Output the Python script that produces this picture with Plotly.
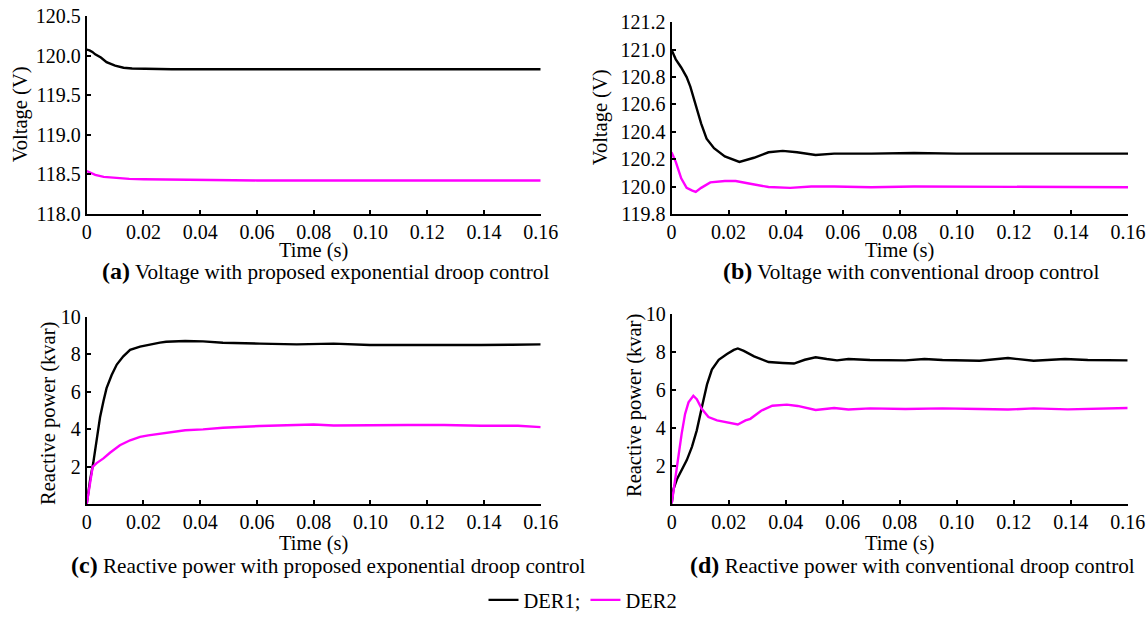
import plotly.graph_objects as go

# ---------------- data ----------------
# (a) Voltage with proposed exponential droop control
t_a1 = [0, 0.001, 0.002, 0.003, 0.005, 0.007, 0.010, 0.013, 0.016, 0.020, 0.030, 0.040, 0.060, 0.080, 0.100, 0.120, 0.140, 0.160]
v_a1 = [120.08, 120.07, 120.05, 120.02, 119.98, 119.92, 119.875, 119.85, 119.84, 119.835, 119.83, 119.83, 119.83, 119.83, 119.83, 119.83, 119.83, 119.83]
t_a2 = [0, 0.001, 0.003, 0.006, 0.010, 0.015, 0.020, 0.030, 0.040, 0.060, 0.080, 0.100, 0.120, 0.140, 0.160]
v_a2 = [118.54, 118.52, 118.49, 118.465, 118.45, 118.44, 118.435, 118.43, 118.425, 118.42, 118.42, 118.42, 118.42, 118.42, 118.42]

# (b) Voltage with conventional droop control
t_b1 = [0, 0.0015, 0.0034, 0.0053, 0.0066, 0.0085, 0.0104, 0.0123, 0.0149, 0.0187, 0.0238, 0.0289, 0.034, 0.039, 0.044, 0.0505, 0.057, 0.070, 0.085, 0.100, 0.115, 0.130, 0.145, 0.160]
v_b1 = [121.00, 120.93, 120.87, 120.80, 120.73, 120.59, 120.46, 120.35, 120.28, 120.22, 120.18, 120.21, 120.25, 120.26, 120.25, 120.23, 120.24, 120.24, 120.245, 120.24, 120.24, 120.235, 120.24, 120.24]
t_b2 = [0, 0.0015, 0.0034, 0.0053, 0.0073, 0.0085, 0.0104, 0.0136, 0.0187, 0.0225, 0.0276, 0.034, 0.0416, 0.049, 0.057, 0.070, 0.085, 0.100, 0.115, 0.130, 0.145, 0.160]
v_b2 = [120.25, 120.18, 120.06, 119.99, 119.97, 119.96, 119.99, 120.03, 120.04, 120.04, 120.02, 119.996, 119.99, 120.0, 120.0, 119.995, 120.0, 120.0, 120.0, 119.995, 120.0, 119.995]

# (c) Reactive power with proposed exponential droop control
t_c1 = [0, 0.0012, 0.0023, 0.0035, 0.0047, 0.0059, 0.0070, 0.0088, 0.0106, 0.0129, 0.0153, 0.0188, 0.0223, 0.0258, 0.028, 0.0347, 0.041, 0.048, 0.061, 0.074, 0.087, 0.0998, 0.113, 0.126, 0.139, 0.150, 0.160]
q_c1 = [0, 1.3, 2.2, 3.4, 4.65, 5.5, 6.2, 6.9, 7.46, 7.9, 8.25, 8.42, 8.54, 8.63, 8.68, 8.72, 8.70, 8.63, 8.58, 8.54, 8.58, 8.51, 8.51, 8.49, 8.51, 8.52, 8.54]
t_c2 = [0, 0.0012, 0.0021, 0.0035, 0.0059, 0.0082, 0.0117, 0.0153, 0.0188, 0.0217, 0.028, 0.0347, 0.041, 0.048, 0.061, 0.074, 0.080, 0.087, 0.0998, 0.113, 0.126, 0.139, 0.152, 0.160]
q_c2 = [0, 1.3, 2.0, 2.2, 2.45, 2.75, 3.15, 3.42, 3.6, 3.68, 3.8, 3.95, 4.0, 4.09, 4.18, 4.25, 4.26, 4.21, 4.23, 4.23, 4.23, 4.19, 4.19, 4.12]

# (d) Reactive power with conventional droop control
t_d1 = [0, 0.0006, 0.0018, 0.0035, 0.0053, 0.0071, 0.0088, 0.0106, 0.0124, 0.0141, 0.0165, 0.0194, 0.0218, 0.0232, 0.0253, 0.0289, 0.034, 0.039, 0.0429, 0.0467, 0.0505, 0.0544, 0.058, 0.062, 0.0696, 0.082, 0.0887, 0.095, 0.108, 0.118, 0.127, 0.138, 0.146, 0.160]
q_d1 = [0, 0.75, 1.27, 1.8, 2.3, 3.0, 3.87, 5.1, 6.3, 7.08, 7.6, 7.9, 8.12, 8.2, 8.07, 7.78, 7.48, 7.43, 7.4, 7.6, 7.73, 7.64, 7.57, 7.64, 7.59, 7.57, 7.64, 7.59, 7.55, 7.69, 7.55, 7.64, 7.59, 7.57]
t_d2 = [0, 0.0018, 0.0035, 0.0047, 0.0059, 0.0076, 0.0088, 0.0106, 0.0129, 0.0159, 0.0194, 0.0218, 0.0232, 0.0259, 0.0276, 0.0314, 0.0353, 0.0404, 0.0442, 0.0505, 0.057, 0.062, 0.0696, 0.082, 0.095, 0.108, 0.118, 0.127, 0.139, 0.160]
q_d2 = [0, 1.96, 3.7, 4.74, 5.35, 5.7, 5.52, 5.0, 4.57, 4.4, 4.3, 4.22, 4.18, 4.4, 4.48, 4.91, 5.17, 5.23, 5.16, 4.95, 5.05, 4.97, 5.03, 5.0, 5.03, 5.0, 4.97, 5.03, 4.98, 5.05]

x_ticks = [0, 0.02, 0.04, 0.06, 0.08, 0.10, 0.12, 0.14, 0.16]
x_ticktext = ["0", "0.02", "0.04", "0.06", "0.08", "0.10", "0.12", "0.14", "0.16"]
ya_ticks = [118.0, 118.5, 119.0, 119.5, 120.0, 120.5]
yb_ticks = [119.8, 120.0, 120.2, 120.4, 120.6, 120.8, 121.0, 121.2]
yq_ticks = [2, 4, 6, 8, 10]

series_names = ["DER1;", "DER2"]
colors = ["#000000", "#ff00ff"]
captions = [("(a)", "Voltage with proposed exponential droop control"),
            ("(b)", "Voltage with conventional droop control"),
            ("(c)", "Reactive power with proposed exponential droop control"),
            ("(d)", "Reactive power with conventional droop control")]

# ---------------- figure ----------------
W, H = 1148, 620
FONT = "Liberation Serif, Times New Roman, serif"
FS = 20.5
CFS = 21.2
TFS = 20

def px_x(p):
    return p / W

def px_y(p):
    return 1 - p / H

fig = go.Figure()

panels = [
    (t_a1, v_a1, t_a2, v_a2, "x", "y"),
    (t_b1, v_b1, t_b2, v_b2, "x2", "y2"),
    (t_c1, q_c1, t_c2, q_c2, "x3", "y3"),
    (t_d1, q_d1, t_d2, q_d2, "x4", "y4"),
]
for i, (t1, s1, t2, s2, xa, ya) in enumerate(panels):
    fig.add_trace(go.Scatter(x=t1, y=s1, mode="lines", name=series_names[0],
                             line=dict(color=colors[0], width=2.4),
                             xaxis=xa, yaxis=ya, showlegend=(i == 0)))
    fig.add_trace(go.Scatter(x=t2, y=s2, mode="lines", name=series_names[1],
                             line=dict(color=colors[1], width=2.4),
                             xaxis=xa, yaxis=ya, showlegend=(i == 0)))

dom = {
    1: dict(x=[px_x(86.7), px_x(540.7)], y=[px_y(216.7), px_y(16.7)], yr=[118.0, 120.5], yt=ya_ticks, fmt="%.1f"),
    2: dict(x=[px_x(671.5), px_x(1128)], y=[px_y(217), px_y(22.7)], yr=[119.8, 121.2], yt=yb_ticks, fmt="%.1f"),
    3: dict(x=[px_x(86.7), px_x(540.7)], y=[px_y(511.7), px_y(321.7)], yr=[0, 10], yt=yq_ticks, fmt="%d"),
    4: dict(x=[px_x(671.7), px_x(1127.7)], y=[px_y(511), px_y(319)], yr=[0, 10], yt=yq_ticks, fmt="%d"),
}

axis_common = dict(showgrid=False, zeroline=False, showline=True, linecolor="black", linewidth=2,
                   ticks="inside", ticklen=4, tickwidth=2, tickcolor="black", automargin=False,
                   ticklabeloverflow="allow",
                   tickfont=dict(family=FONT, size=TFS, color="black"), mirror=False)

layout = {}
for k, d in dom.items():
    sx = "" if k == 1 else str(k)
    layout["xaxis" + sx] = dict(domain=d["x"], range=[0, 0.16], tickvals=x_ticks, ticktext=x_ticktext,
                                anchor="y" + sx, ticklabelstandoff=-1, **axis_common)
    layout["yaxis" + sx] = dict(domain=d["y"], range=d["yr"], tickvals=d["yt"],
                                ticktext=[(d["fmt"] % v) for v in d["yt"]],
                                anchor="x" + sx, **axis_common)
fig.update_layout(**layout)

ann = []
for cx, cy in [((86.7 + 540.7) / 2, 254), ((671.5 + 1128) / 2, 254), ((86.7 + 540.7) / 2, 551), ((671.7 + 1127.7) / 2, 551)]:
    ann.append(dict(text="Time (s)", x=px_x(cx), y=px_y(cy), xref="paper", yref="paper",
                    xanchor="center", yanchor="middle", showarrow=False,
                    font=dict(family=FONT, size=FS, color="black")))
for txt, cx, cy in [("Voltage (V)", 20, 116), ("Voltage (V)", 600, 119),
                    ("Reactive power (kvar)", 49, 420), ("Reactive power (kvar)", 634, 412)]:
    ann.append(dict(text=txt, x=px_x(cx), y=px_y(cy), xref="paper", yref="paper", textangle=-90,
                    xanchor="center", yanchor="middle", showarrow=False,
                    font=dict(family=FONT, size=FS, color="black")))
for (lab, txt), cx, cy in zip(captions, [325, 911, 328, 912], [275, 275, 573, 573]):
    ann.append(dict(text="<b><span style='font-size:24px'>" + lab + "</span></b> " + txt,
                    x=px_x(cx), y=px_y(cy), xref="paper", yref="paper",
                    xanchor="center", yanchor="middle", showarrow=False,
                    font=dict(family=FONT, size=CFS, color="black")))

fig.update_layout(
    width=W, height=H, autosize=False,
    margin=dict(l=0, r=0, t=0, b=0),
    paper_bgcolor="white", plot_bgcolor="white",
    font=dict(family=FONT, size=FS, color="black"),
    annotations=ann,
    legend=dict(orientation="h", x=px_x(583), xanchor="center", y=px_y(609), yanchor="middle",
                font=dict(family=FONT, size=FS, color="black"), bgcolor="rgba(0,0,0,0)",
                itemwidth=30, tracegroupgap=0),
)

# remove the browser's default 8px body margin so the figure sits exactly on the window
fig.write_html("out.html", config={"displayModeBar": False},
               post_script="document.body.style.margin='0';document.body.style.overflow='hidden';")
